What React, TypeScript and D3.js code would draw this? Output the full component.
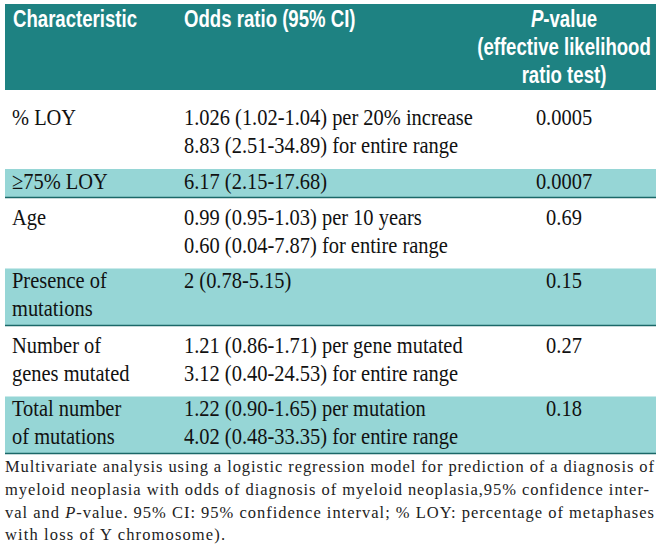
import React from "react";
import * as d3 from "d3";

const headerCharacteristic = "Characteristic";
const headerOdds = "Odds ratio (95% CI)";
const headerP = ["-value", "(effective likelihood", "ratio test)"];

const characteristics: string[][] = [
  ["% LOY"],
  ["≥75% LOY"],
  ["Age"],
  ["Presence of", "mutations"],
  ["Number of", "genes mutated"],
  ["Total number", "of mutations"],
];

const oddsRatios: string[][] = [
  ["1.026 (1.02-1.04) per 20% increase", "8.83 (2.51-34.89) for entire range"],
  ["6.17 (2.15-17.68)"],
  ["0.99 (0.95-1.03) per 10 years", "0.60 (0.04-7.87) for entire range"],
  ["2 (0.78-5.15)"],
  ["1.21 (0.86-1.71) per gene mutated", "3.12 (0.40-24.53) for entire range"],
  ["1.22 (0.90-1.65) per mutation", "4.02 (0.48-33.35) for entire range"],
];

const pValues = ["0.0005", "0.0007", "0.69", "0.15", "0.27", "0.18"];
const shaded = [false, true, false, true, false, true];

const captionLines = [
  "Multivariate analysis using a logistic regression model for prediction of a diagnosis of",
  "myeloid neoplasia with odds of diagnosis of myeloid neoplasia,95% confidence inter-",
  "val and |P|-value. 95% CI: 95% confidence interval; % LOY: percentage of metaphases",
  "with loss of Y chromosome).",
];

const W = 662;
const H = 551;
const left = 5;
const right = 656;
const headerTop = 4;
const headerBottom = 90;
const bodyTop = 98;
const lineH = 28;
const col1 = 12;
const col2 = 184;
const col3 = 564;

const TEAL = "#1e8282";
const LIGHT = "#96d6d6";
const LINE = "#1b6868";

const bodyFont = "'Liberation Serif', 'Times New Roman', serif";
const headFont = "'Liberation Sans', Arial, sans-serif";
const bodySize = 23.5;
const bodySx = 0.87;
const headSize = 24;
const headSx = 0.775;

export default function App() {
  const nLines = characteristics.map((c, i) => Math.max(c.length, oddsRatios[i].length));
  const heights = nLines.map((n, i) => (shaded[i] ? n * 28.5 : n * lineH + 15));
  const tops = [bodyTop, ...d3.cumsum(heights).map((h) => bodyTop + h)];

  const bodyText = (x: number, y: number, s: string, anchor: string = "start", key?: any) => (
    <text
      key={key}
      transform={`translate(${x},${y}) scale(${bodySx},1)`}
      textAnchor={anchor}
      fontFamily={bodyFont}
      fontSize={bodySize}
      fill="#111"
    >
      {s}
    </text>
  );

  const headText = (x: number, y: number, content: any, anchor: string = "start", key?: any) => (
    <text
      key={key}
      transform={`translate(${x},${y}) scale(${headSx},1)`}
      textAnchor={anchor}
      fontFamily={headFont}
      fontWeight="bold"
      fontSize={headSize}
      fill="#fff"
    >
      {content}
    </text>
  );

  const captionY = d3.range(captionLines.length).map((i) => 472 + i * 22.8);
  const captionWidths = [649, 644, 649, 220];

  return (
    <svg
      width={W}
      height={H}
      style={{ position: "absolute", left: 0, top: 0, background: "#fff" }}
    >
      <rect x={0} y={0} width={W} height={H} fill="#fff" />
      <rect x={left} y={headerTop} width={right - left} height={headerBottom - headerTop} fill={TEAL} />
      {headText(col1 + 1, 27, headerCharacteristic)}
      {headText(col2, 27, headerOdds)}
      {headText(
        col3,
        27,
        <>
          <tspan fontStyle="italic">P</tspan>
          {headerP[0]}
        </>,
        "middle"
      )}
      {headText(col3, 55, headerP[1], "middle")}
      {headText(col3, 83, headerP[2], "middle")}

      {characteristics.map((c, i) => {
        const y0 = tops[i];
        const first = shaded[i] ? y0 + 19.5 : y0 + 27;
        return (
          <g key={i}>
            {shaded[i] && (
              <>
                <rect x={left} y={y0} width={right - left} height={heights[i]} fill={LIGHT} />
                <line x1={left} x2={right} y1={y0 + heights[i]} y2={y0 + heights[i]} stroke={LINE} strokeWidth={1.5} />
              </>
            )}
            {c.map((s, j) => bodyText(col1, first + j * lineH, s, "start", "c" + j))}
            {oddsRatios[i].map((s, j) => bodyText(col2, first + j * lineH, s, "start", "o" + j))}
            {bodyText(col3, first, pValues[i], "middle")}
          </g>
        );
      })}

      {captionLines.map((line, i) => {
        const parts = line.split("|");
        return (
          <text
            key={i}
            x={left}
            y={captionY[i]}
            fontFamily={bodyFont}
            fontSize={16.5}
            fill="#222"
            textLength={captionWidths[i]}
            lengthAdjust="spacing"
          >
            {parts.map((p, k) => (
              <tspan key={k} fontStyle={k % 2 === 1 ? "italic" : "normal"}>
                {p}
              </tspan>
            ))}
          </text>
        );
      })}
    </svg>
  );
}
